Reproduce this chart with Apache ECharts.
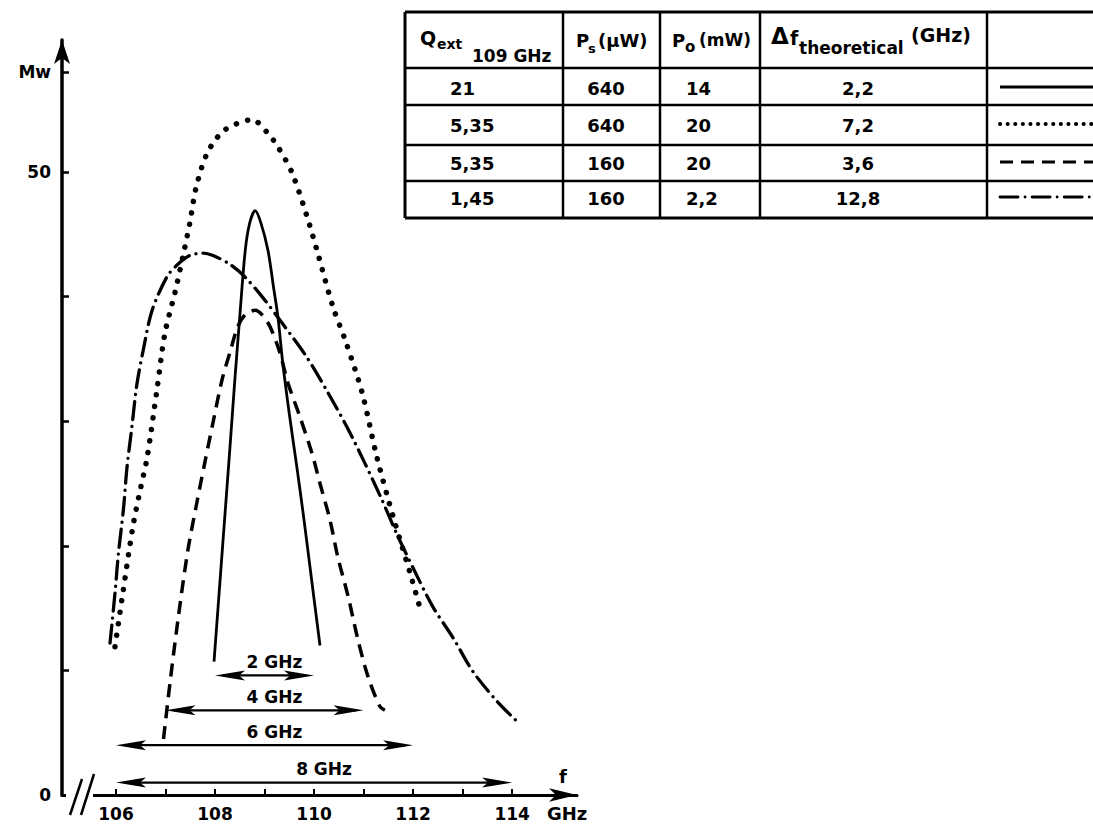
<!DOCTYPE html>
<html><head><meta charset="utf-8">
<script src="https://cdn.jsdelivr.net/npm/echarts@6/dist/echarts.min.js"></script>
<style>html,body{margin:0;padding:0;background:#fff}#c{width:1093px;height:829px}</style>
</head><body><div id="c"></div>
<script>
// ---- curves (frequency in GHz, output power in mW) ----
const solidX = [107.98,108.15,108.30,108.40,108.50,108.61,108.70,108.81,108.92,109.07,109.18,109.27,109.37,109.50,109.65,109.78,109.95,110.12];
const solidY = [10.7,19.8,27.8,33.3,38.4,43.7,45.9,46.9,46.0,43.7,40.8,38.4,34.6,30.6,26.4,22.6,17.3,12.0];

const dottedX = [105.98,106.12,106.34,106.49,106.63,106.83,106.99,107.19,107.35,107.49,107.62,107.84,108.14,108.45,108.75,109.07,109.29,109.56,109.86,110.06,110.38,110.63,110.97,111.27,111.60,111.94,112.14];
const dottedY = [11.9,15.7,21.5,24.5,27.1,32.6,37.1,40.3,43.2,45.9,48.8,51.5,53.2,53.9,54.2,53.1,51.9,49.9,46.4,43.7,39.2,36.5,32.3,27.1,22.3,17.8,15.0];

const dashedX = [106.96,107.10,107.26,107.45,107.64,107.80,107.96,108.14,108.30,108.46,108.62,108.81,108.96,109.11,109.31,109.47,109.72,109.96,110.12,110.32,110.48,110.69,110.89,111.09,111.33,111.43];
const dashedY = [4.5,9.3,14.3,19.6,23.6,26.8,29.9,33.3,35.5,37.6,38.6,38.9,38.5,37.6,35.5,33.1,30.3,27.4,25.0,22.1,19.1,15.9,12.4,9.5,7.1,6.8];

const dashDotX = [105.88,105.98,106.05,106.15,106.22,106.32,106.42,106.55,106.73,107.03,107.25,107.49,107.76,107.96,108.30,108.60,108.97,109.37,109.86,110.28,110.67,111.03,111.37,111.70,112.04,112.40,112.81,113.21,113.70,114.10];
const dashDotY = [12.2,16.2,19.4,22.9,26.2,29.5,32.9,35.7,38.9,41.6,42.6,43.3,43.5,43.3,42.6,41.6,39.9,37.8,35.1,32.3,29.5,26.6,23.7,20.7,17.9,15.1,12.6,9.9,7.5,5.9];

// ---- bandwidth arrows ----
const bwStart = [108, 107, 106, 106];
const bwEnd   = [110, 111, 112, 114];
const bwLevel = [9.6, 6.8, 4.0, 1.0];
const bwLabel = ['2 GHz', '4 GHz', '6 GHz', '8 GHz'];

// ---- axis ticks ----
const xTicks = [106,107,108,109,110,111,112,113,114];
const xLabels = [106,108,110,112,114];
const yTicks = [0,10,20,30,40,50,58];
const yLabels = [0,50,58];
const yUnitTick = 58;
const yUnitLabel = 'Mw';

// ---- table ----
const colQext = ['21','5,35','5,35','1,45'];
const colPs = ['640','640','160','160'];
const colPo = ['14','20','20','2,2'];
const colDf = ['2,2','7,2','3,6','12,8'];

const zip = (a, b) => a.map((v, i) => [v, b[i]]);
const FONT = '"DejaVu Sans", sans-serif';
const K = '#000';

const styles = [
  {width: 2.8, type: 'solid', cap: 'butt'},
  {width: 5.5, type: [0.1, 11.5], cap: 'round'},
  {width: 3.5, type: [13, 8], cap: 'butt'},
  {width: 3.3, type: [18, 7, 0.1, 7], cap: 'round'}
];

const curveSeries = [
  [solidX, solidY], [dottedX, dottedY], [dashedX, dashedY], [dashDotX, dashDotY]
].map((c, i) => ({
  type: 'line', data: zip(c[0], c[1]), showSymbol: false, smooth: 0.3,
  lineStyle: Object.assign({color: K}, styles[i]), silent: true, animation: false
}));

const arrowData = bwStart.map((s, i) => [s, bwEnd[i], bwLevel[i]]);

// table graphic
const g = [];
const tL = 405, tR = 1093, rowsY = [12, 68, 105, 145, 181, 218], colsX = [405, 563, 660, 760, 987];
rowsY.forEach((y, i) => g.push({type:'line', shape:{x1:tL, y1:y, x2:tR, y2:y}, style:{stroke:K, lineWidth: (i===0||i===5)?3:2.5}}));
colsX.forEach((x, i) => g.push({type:'line', shape:{x1:x, y1:12, x2:x, y2:218}, style:{stroke:K, lineWidth: i===0?3:2.5}}));
function txt(t, x, y, size, align) {
  g.push({type:'text', x:x, y:y, style:{text:t, font: 'bold ' + size + 'px ' + FONT, fill:K, align: align || 'left', verticalAlign:'middle'}});
}
// header
txt('Q', 420, 38, 19); txt('ext', 437, 44, 14); txt('109 GHz', 472, 56, 17);
txt('P', 576, 40, 18); txt('s', 588, 48, 13); txt('(\u03bcW)', 598, 40, 18);
txt('P', 672, 40, 18); txt('o', 685, 47, 15); txt('(mW)', 699, 40, 17);
txt('\u0394', 771, 36, 23); txt('f', 790, 38, 19); txt('theoretical', 799, 48, 17); txt('(GHz)', 911, 35, 19);
const rowCY = [88, 125, 163, 198];
rowCY.forEach((y, i) => {
  txt(colQext[i], 450, y, 18);
  txt(colPs[i], 606, y, 18, 'center');
  txt(colPo[i], 686, y, 18);
  txt(colDf[i], 858, y, 18, 'center');
  const st = styles[i];
  g.push({type:'line', shape:{x1:1000, y1:y-1, x2:1093, y2:y-1},
    style:{stroke:K, lineWidth: i===1?4:2.8, lineDash: st.type==='solid'?null:(i===1?[0.1,7.5]:st.type), lineCap: st.cap}});
});
// axis unit text
g.push({type:'text', x:547, y:813, style:{text:'GHz', font:'bold 18px ' + FONT, fill:K, align:'left', verticalAlign:'middle'}});
// axis break
g.push({type:'rect', shape:{x:66, y:791, width:27, height:8}, style:{fill:'#fff'}, z:100});
g.push({type:'line', shape:{x1:70, y1:815, x2:82, y2:779}, style:{stroke:K, lineWidth:2.5}, z:101});
g.push({type:'line', shape:{x1:81, y1:815, x2:94, y2:774}, style:{stroke:K, lineWidth:2.5}, z:101});

const chart = echarts.init(document.getElementById('c'), null, {renderer:'svg'});
chart.setOption({
  animation: false,
  backgroundColor: '#fff',
  grid: {left: 62, right: 516, top: 40, bottom: 34, containLabel: false},
  xAxis: {
    type: 'value', min: 104.91, max: 115.31,
    axisLine: {show: true, onZero: false, lineStyle: {color: K, width: 3}, symbol: ['none', 'arrow'], symbolSize: [10, 28]},
    axisTick: {show: true, inside: true, length: 6, lineStyle: {color: K, width: 2}, customValues: xTicks},
    axisLabel: {customValues: xLabels, color: K, fontSize: 17, fontWeight: 'bold', fontFamily: FONT, margin: 10},
    splitLine: {show: false},
    name: 'f', nameLocation: 'end', nameGap: -14,
    nameTextStyle: {color: K, fontSize: 18, fontWeight: 'bold', fontFamily: FONT, align: 'center', verticalAlign: 'bottom', padding: [0, 0, 10, 0]}
  },
  yAxis: {
    type: 'value', min: 0, max: 60.6,
    axisLine: {show: true, onZero: false, lineStyle: {color: K, width: 3.5}, symbol: ['none', 'arrow'], symbolSize: [12, 24]},
    axisTick: {show: true, inside: true, length: 7, lineStyle: {color: K, width: 2.5}, customValues: yTicks},
    axisLabel: {customValues: yLabels, color: K, fontSize: 17, fontWeight: 'bold', fontFamily: FONT, margin: 11,
      formatter: v => v === yUnitTick ? yUnitLabel : String(v)},
    splitLine: {show: false}
  },
  series: curveSeries.concat([{
    type: 'custom', data: arrowData, clip: false, silent: true,
    encode: {x: [0, 1], y: 2},
    renderItem: function (params, api) {
      const y = api.value(2);
      const p1 = api.coord([api.value(0), y]), p2 = api.coord([api.value(1), y]);
      const L = 30, W = 5;
      return {type: 'group', children: [
        {type: 'line', shape: {x1: p1[0] + 8, y1: p1[1], x2: p2[0] - 8, y2: p2[1]}, style: {stroke: K, lineWidth: 2.2}},
        {type: 'polygon', shape: {points: [[p1[0], p1[1]], [p1[0] + L, p1[1] - W], [p1[0] + L - 6, p1[1]], [p1[0] + L, p1[1] + W]]}, style: {fill: K}},
        {type: 'polygon', shape: {points: [[p2[0], p2[1]], [p2[0] - L, p2[1] - W], [p2[0] - L + 6, p2[1]], [p2[0] - L, p2[1] + W]]}, style: {fill: K}},
        {type: 'text', style: {text: bwLabel[params.dataIndex], x: (p1[0] + p2[0]) / 2 + 10, y: p1[1] - 5,
          align: 'center', verticalAlign: 'bottom', font: 'bold 17px ' + FONT, fill: K}}
      ]};
    }
  }]),
  graphic: {elements: g}
});
</script></body></html>
